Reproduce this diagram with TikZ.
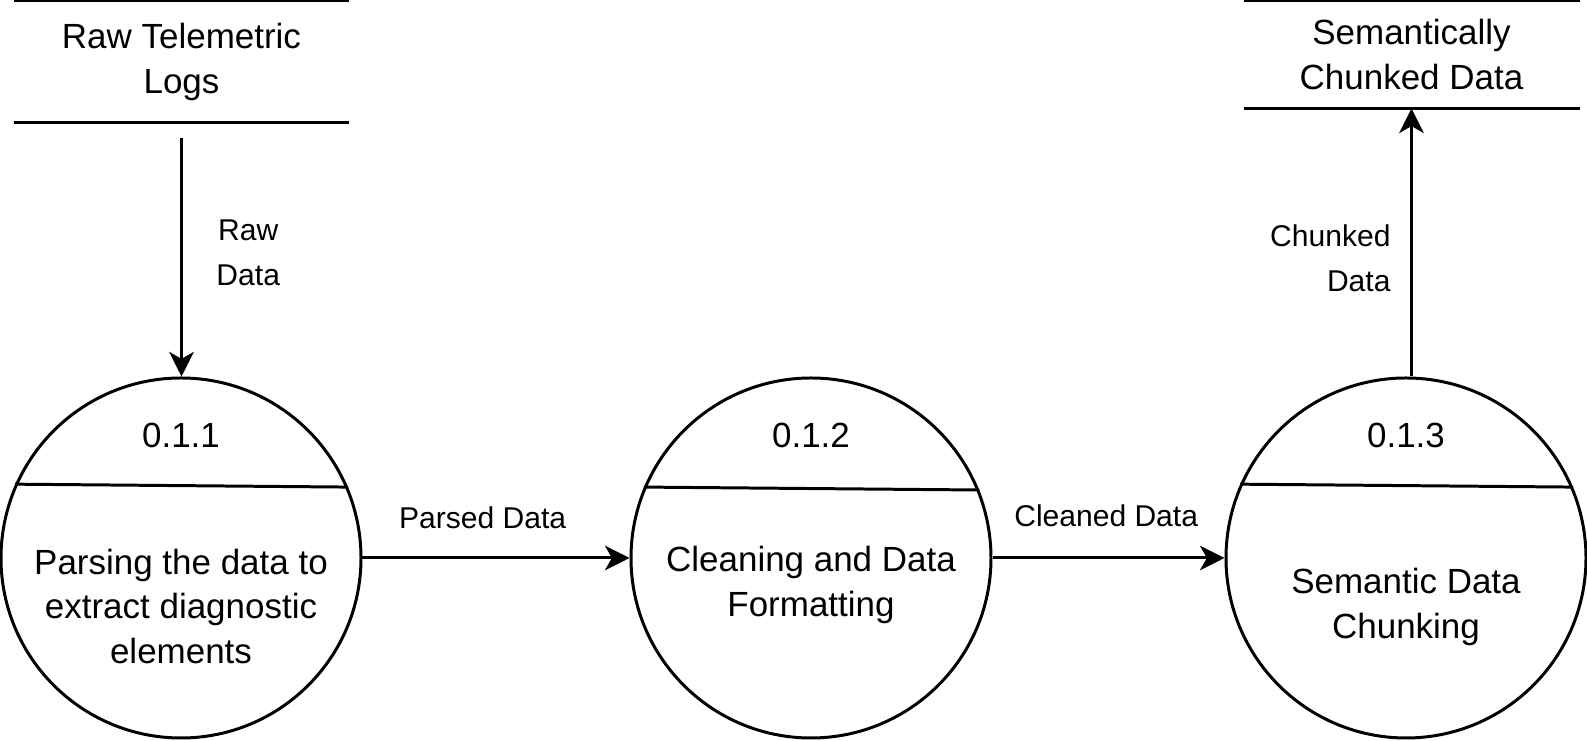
\documentclass[tikz,border=0pt]{standalone}
\usepackage{fontspec}
\setmainfont{Liberation Sans}
\usetikzlibrary{arrows.meta,positioning}

\tikzset{
	proc/.style={circle, draw, minimum size=7.2cm, inner sep=0pt},
	store/.style={minimum width=6.66cm, inner sep=0pt, align=center, font=\fontsize{19.9}{25.6}\selectfont},
	big/.style={align=center, inner sep=0pt, font=\fontsize{19.9}{25.6}\selectfont},
	lbl/.style={align=center, inner sep=0pt, font=\fontsize{17.1}{25.6}\selectfont},
	flow/.style={-{Stealth[length=14pt, width=14pt, inset=4pt]}},
}

\begin{document}
\begin{tikzpicture}[line width=1.7pt]
	
	\useasboundingbox (0,0) rectangle (31.74,14.82);
	
	% Data stores
	\node[store, minimum height=2.38cm] (rtl) at (3.63,13.59) {Raw Telemetric\\Logs};
	\node[store, minimum height=2.10cm] (scd) at (28.23,13.73) {Semantically\\Chunked Data};
	
	\draw (rtl.north west) -- (rtl.north east);
	\draw (rtl.south west) -- (rtl.south east);
	\draw (scd.north west) -- (scd.north east);
	\draw (scd.south west) -- (scd.south east);
	
	% Processes
	\node[proc] (c1) at (3.62,3.66) {};
	\node[proc] (c2) at (16.22,3.66) {};
	\node[proc] (c3) at (28.12,3.66) {};
	
	% Process numbers
	\node[big] (n1) at ([yshift=2.45cm]c1.center) {0.1.1};
	\node[big] (n2) at ([yshift=2.45cm]c2.center) {0.1.2};
	\node[big] (n3) at ([yshift=2.45cm]c3.center) {0.1.3};
	
	% Dividers
	\draw (c1.156.1) -- (c1.23.9);
	\draw (c2.157.1) -- (c2.22.9);
	\draw (c3.156.8) -- (c3.23.2);
	
	% Process texts
	\node[big] (t1) at ([yshift=-0.97cm]c1.center) {Parsing the data to\\extract diagnostic\\elements};
	\node[big] (t2) at ([yshift=-0.53cm]c2.center) {Cleaning and Data\\Formatting};
	\node[big] (t3) at ([yshift=-0.97cm]c3.center) {Semantic Data\\Chunking};
	
	% Data flows
	\draw[flow] ([yshift=-0.32cm]rtl.south) -- node[lbl, pos=0.48, right=0.67cm] (l1) {Raw\\Data} (rtl.south |- c1.north);
	\draw[flow] (c1.east) -- node[lbl, pos=0.45, above=0.55cm] (l2) {Parsed Data} (c2.west);
	\draw[flow] (c2.east) -- node[lbl, pos=0.49, above=0.6cm] (l3) {Cleaned Data} (c3.west);
	\draw[flow] (scd.south |- c3.north) -- node[lbl, pos=0.44, left=0.39cm, align=right] (l4) {Chunked\\Data} (scd.south);
	
\end{tikzpicture}
\end{document}
